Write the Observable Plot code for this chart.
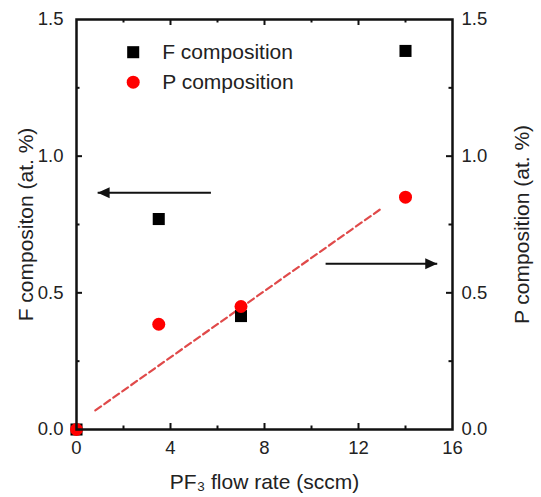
<!DOCTYPE html>
<html><head><meta charset="utf-8">
<script src="https://cdn.jsdelivr.net/npm/d3@7"></script>
<script src="https://cdn.jsdelivr.net/npm/@observablehq/plot@0.6"></script>
<style>body{margin:0;background:#fff;} svg{display:block}</style>
</head><body><div id="chart"></div>
<script>
// ---- data ----
const flowRate = [0, 3.5, 7, 14];
const fComposition = [0, 0.77, 0.415, 1.385];
const pComposition = [0, 0.385, 0.45, 0.85];
const fitFlow = [0.8, 13];
const fitP = [0.07, 0.81];
const xTicks = [0, 4, 8, 12, 16];
const xMinor = [2, 6, 10, 14];
const yTicks = [0, 0.5, 1.0, 1.5];
const yMinor = [0.25, 0.75, 1.25];
const legendLabels = ["F composition", "P composition"];
const arrowFrom = [5.72, 10.6];
const arrowTo = [0.9, 15.35];
const arrowY = [0.866, 0.606];
const xLabel = "PF\u2083 flow rate (sccm)";
const yLeftLabel = "F compositon (at. %)";
const yRightLabel = "P composition (at. %)";

// ---- build ----
const W = 541, H = 497, mL = 76, mR = 89, mT = 19, mB = 68;
const PW = W - mL - mR, PH = H - mT - mB;
const fData = flowRate.map((x, i) => ({x, y: fComposition[i]}));
const pData = flowRate.map((x, i) => ({x, y: pComposition[i]}));
const fit = fitFlow.map((x, i) => ({x, y: fitP[i]}));
const arrows = arrowFrom.map((x1, i) => ({x1, x2: arrowTo[i], y: arrowY[i], dir: arrowTo[i] < x1 ? -1 : 1}));
const ink = "#111";
const txt = "#222";
const fmt = d => d.toFixed(1);
const tick = {stroke: ink, strokeOpacity: 1, strokeWidth: 2};

const chart = Plot.plot({
  width: W, height: H,
  marginLeft: mL, marginRight: mR, marginTop: mT, marginBottom: mB,
  x: {domain: [0, 16]},
  y: {domain: [0, 1.5]},
  style: {fontFamily: "'Liberation Sans', Arial, sans-serif", fontSize: "18px", color: txt, background: "#fff"},
  marks: [
    // inward ticks
    Plot.gridX(xTicks.slice(1, -1), {...tick, insetTop: PH - 6}),
    Plot.gridX(xTicks.slice(1, -1), {...tick, insetBottom: PH - 6}),
    Plot.gridX(xMinor, {...tick, insetTop: PH - 3.5}),
    Plot.gridX(xMinor, {...tick, insetBottom: PH - 3.5}),
    Plot.gridY(yTicks.slice(1, -1), {...tick, insetRight: PW - 6}),
    Plot.gridY(yTicks.slice(1, -1), {...tick, insetLeft: PW - 6}),
    Plot.gridY(yMinor, {...tick, insetRight: PW - 3.5}),
    Plot.gridY(yMinor, {...tick, insetLeft: PW - 3.5}),
    // tick labels
    Plot.axisX(xTicks, {anchor: "bottom", tickSize: 0, tickPadding: 11, fontSize: 18.5, label: null, fill: txt}),
    Plot.axisY(yTicks, {anchor: "left", tickSize: 0, tickPadding: 13, fontSize: 18.5, label: null, tickFormat: fmt, fill: txt}),
    Plot.axisY(yTicks, {anchor: "right", tickSize: 0, tickPadding: 9, fontSize: 18.5, label: null, tickFormat: fmt, fill: txt}),
    // axis titles
    Plot.text([xLabel], {text: d => d, frameAnchor: "bottom", dy: 59, textAnchor: "middle", lineAnchor: "bottom", fontSize: 21, fill: txt}),
    Plot.text([yLeftLabel], {text: d => d, frameAnchor: "left", dx: -44, rotate: -90, textAnchor: "middle", lineAnchor: "bottom", fontSize: 21, fill: txt}),
    Plot.text([yRightLabel], {text: d => d, frameAnchor: "right", dx: 76, rotate: -90, textAnchor: "middle", lineAnchor: "bottom", fontSize: 21, fill: txt}),
    // fit line
    Plot.line(fit, {x: "x", y: "y", stroke: "#e04a4a", strokeWidth: 2.2, strokeDasharray: "7,4"}),
    // arrows
    Plot.link(arrows, {x1: "x1", x2: "x2", y1: "y", y2: "y", stroke: ink, strokeWidth: 2}),
    Plot.vector(arrows, {x: "x2", y: "y", rotate: d => d.dir < 0 ? 270 : 90, length: 12, r: 5.5, shape: "spike", anchor: "end", fill: ink, stroke: "none"}),
    // data
    Plot.dot(fData, {x: "x", y: "y", symbol: "square", r: 6.8, fill: "#000"}),
    Plot.dot(pData, {x: "x", y: "y", symbol: "circle", r: 6.5, fill: "#ff0000"}),
    // legend
    Plot.dot([legendLabels[0]], {frameAnchor: "top-left", dx: 56.7, dy: 32.7, symbol: "square", r: 6.8, fill: "#000"}),
    Plot.dot([legendLabels[1]], {frameAnchor: "top-left", dx: 56.7, dy: 62.7, symbol: "circle", r: 6.5, fill: "#ff0000"}),
    Plot.text([legendLabels[0]], {text: d => d, frameAnchor: "top-left", dx: 85.7, dy: 32.7, textAnchor: "start", lineAnchor: "middle", fontSize: 21, fill: txt}),
    Plot.text([legendLabels[1]], {text: d => d, frameAnchor: "top-left", dx: 85.7, dy: 62.7, textAnchor: "start", lineAnchor: "middle", fontSize: 21, fill: txt}),
    // frame
    Plot.frame({stroke: ink, strokeWidth: 2.5})
  ]
});
document.getElementById("chart").appendChild(chart);
</script></body></html>
